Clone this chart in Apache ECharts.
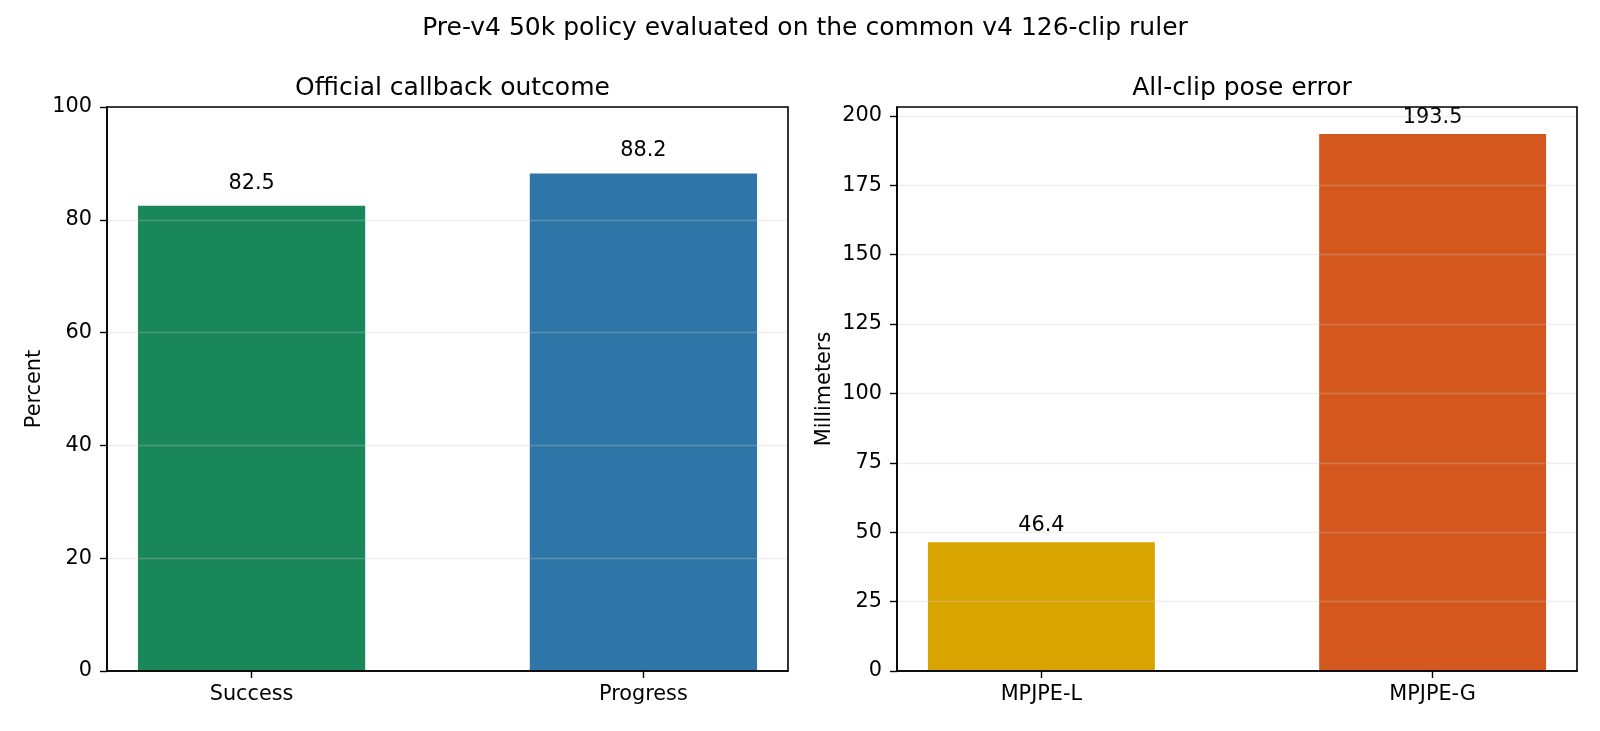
<!DOCTYPE html>
<html>
<head>
<meta charset="utf-8">
<script src="https://cdn.jsdelivr.net/npm/echarts@6/dist/echarts.min.js"></script>
<style>
    html, body { margin: 0; padding: 0; background: #fff; }
    #main { width: 1600px; height: 731px; }
</style>
</head>
<body>
<div id="main"></div>
<script>
// 数据
var outcomeNames = ['Success', 'Progress'];
var outcomeValues = [82.5, 88.2];
var outcomeColors = ['#19875a', '#2e76a8'];
var percentTicks = [0, 20, 40, 60, 80, 100];

var poseNames = ['MPJPE-L', 'MPJPE-G'];
var poseValues = [46.4, 193.5];
var poseColors = ['#d8a500', '#d4581e'];
var mmTicks = [0, 25, 50, 75, 100, 125, 150, 175, 200];

var FONT = 'DejaVu Sans';
var X_MIN = -0.369, X_MAX = 1.369, BAR_W = 0.58;

// 两个子图的位置
var grids = [
    {left: 107, top: 107, width: 681, height: 564},
    {left: 897, top: 107, width: 680, height: 564}
];

function barWidthPx(g) {
    return BAR_W * g.width / (X_MAX - X_MIN);
}

function makeX(idx, names) {
    return {
        type: 'value', gridIndex: idx, min: X_MIN, max: X_MAX, z: 5,
        axisLine: {show: true, onZero: false, lineStyle: {color: '#000', width: 1.6}},
        axisTick: {show: true, length: 7, customValues: [0, 1], lineStyle: {color: '#000', width: 1.4}},
        axisLabel: {
            customValues: [0, 1], margin: 13, color: '#000', fontFamily: FONT, fontSize: 20.8,
            formatter: function (v) { return names[Math.round(v)]; }
        },
        splitLine: {show: false}
    };
}

function makeY(idx, max, ticks, name) {
    return {
        type: 'value', gridIndex: idx, min: 0, max: max, z: 3,
        name: name, nameLocation: 'middle', nameGap: 62, nameRotate: 90,
        nameTextStyle: {color: '#000', fontFamily: FONT, fontSize: 20.8},
        axisLine: {show: true, onZero: false, lineStyle: {color: '#000', width: 1.6}},
        axisTick: {show: true, length: 7, customValues: ticks, lineStyle: {color: '#000', width: 1.4}},
        axisLabel: {customValues: ticks, margin: 15, color: '#000', fontFamily: FONT, fontSize: 20.8},
        splitLine: {show: true, lineStyle: {color: 'rgba(200,200,200,0.3)', width: 1.4}}
    };
}

function makeSeries(idx, values, colors, dist) {
    return {
        type: 'bar', xAxisIndex: idx, yAxisIndex: idx,
        barWidth: barWidthPx(grids[idx]),
        data: values.map(function (v, i) {
            return {value: [i, v], itemStyle: {color: colors[i]}};
        }),
        label: {
            show: true, position: 'top', distance: dist,
            color: '#000', fontFamily: FONT, fontSize: 20.8,
            formatter: function (p) { return p.value[1].toFixed(1); }
        }
    };
}

var chart = echarts.init(document.getElementById('main'), null, {renderer: 'canvas'});
chart.setOption({
    animation: false,
    backgroundColor: '#fff',
    title: [
        {text: 'Pre-v4 50k policy evaluated on the common v4 126-clip ruler', left: 800, top: 11, textAlign: 'center',
            textStyle: {fontFamily: FONT, fontSize: 25, fontWeight: 'normal', color: '#000'}},
        {text: 'Official callback outcome', left: 447.5, top: 71, textAlign: 'center',
            textStyle: {fontFamily: FONT, fontSize: 25, fontWeight: 'normal', color: '#000'}},
        {text: 'All-clip pose error', left: 1237, top: 71, textAlign: 'center',
            textStyle: {fontFamily: FONT, fontSize: 25, fontWeight: 'normal', color: '#000'}}
    ],
    grid: grids.map(function (g) {
        return {left: g.left, top: g.top, width: g.width, height: g.height,
            show: true, borderColor: '#000', borderWidth: 1.6, backgroundColor: 'transparent', z: 10};
    }),
    xAxis: [makeX(0, outcomeNames), makeX(1, poseNames)],
    yAxis: [makeY(0, 100, percentTicks, 'Percent'), makeY(1, 203.2, mmTicks, 'Millimeters')],
    series: [
        makeSeries(0, outcomeValues, outcomeColors, 12),
        makeSeries(1, poseValues, poseColors, 6)
    ]
});
</script>
</body>
</html>
